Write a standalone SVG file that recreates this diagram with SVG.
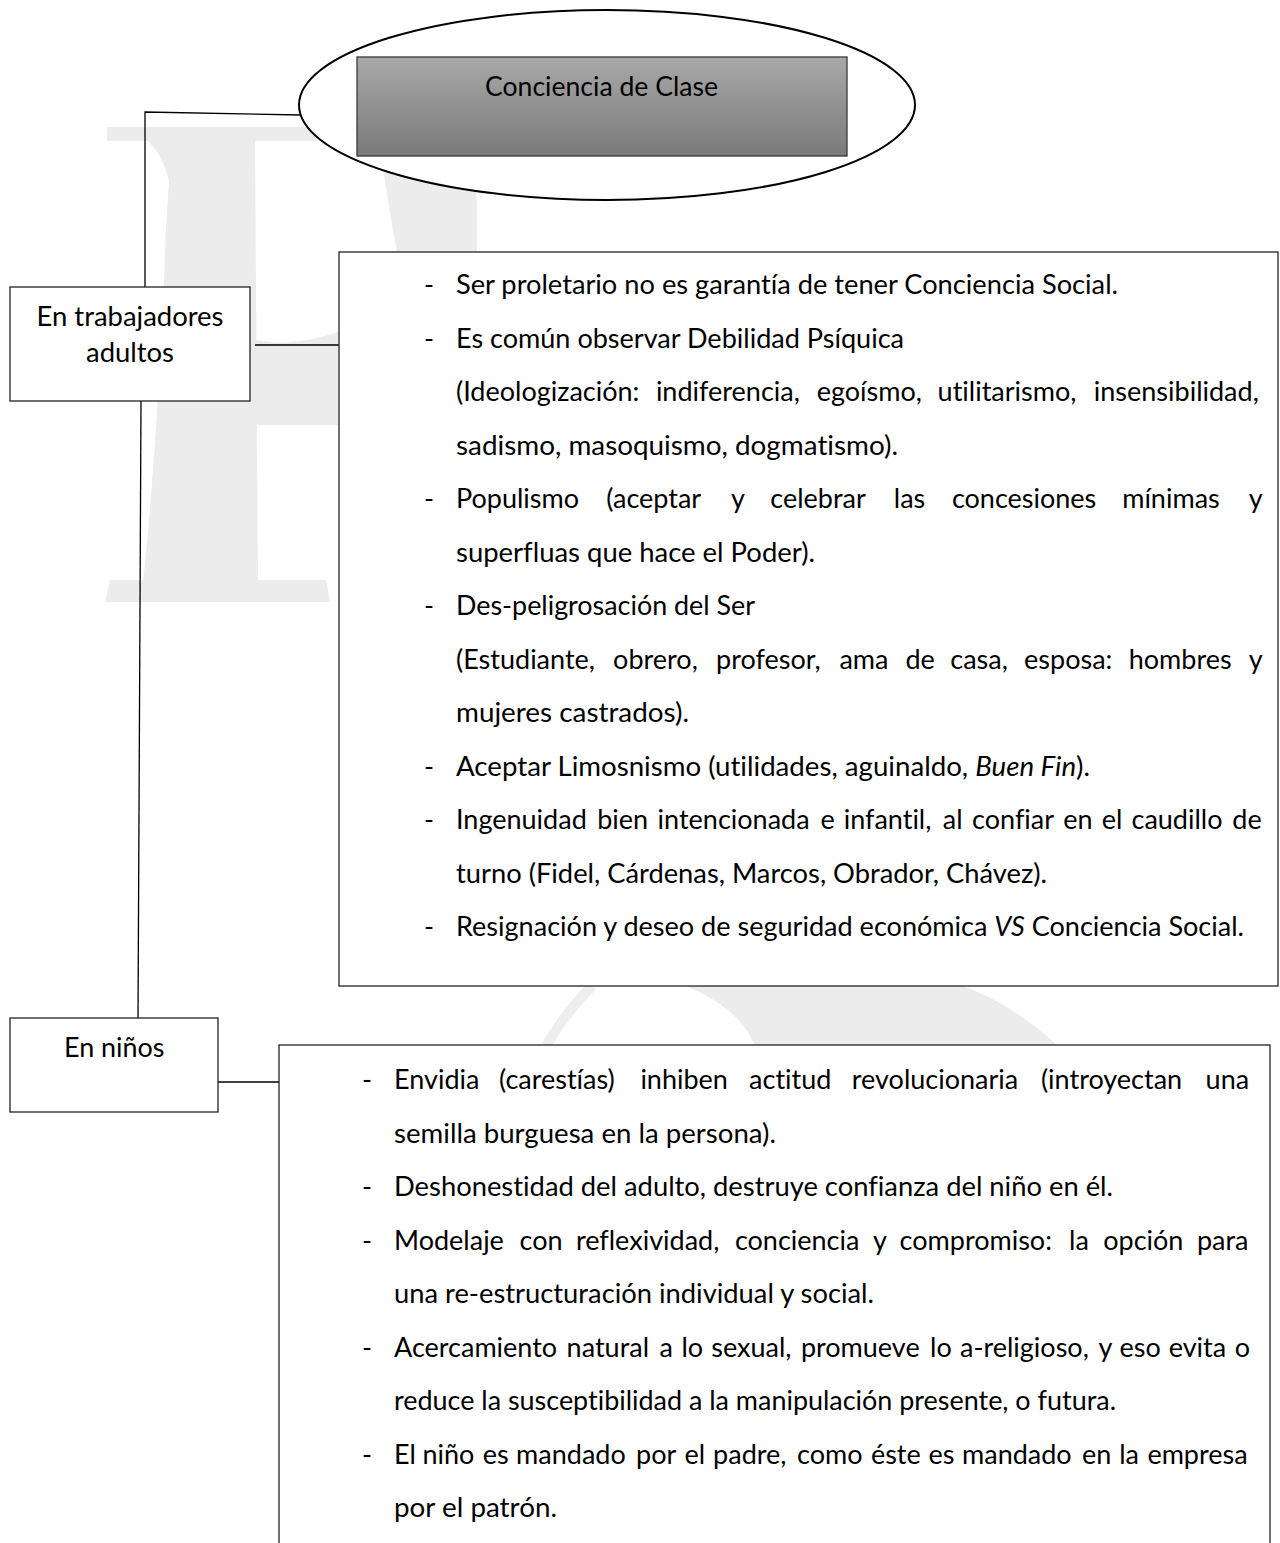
<svg xmlns="http://www.w3.org/2000/svg" width="1280" height="1543" viewBox="0 0 1280 1543">
<defs>
<linearGradient id="grayGrad" x1="0" y1="0" x2="0" y2="1">
<stop offset="0" stop-color="#a8a8a8"/>
<stop offset="1" stop-color="#7a7a7a"/>
</linearGradient>
<style>
.t { font-family: Lato, 'Open Sans', 'Liberation Sans', sans-serif; font-size: 27px; fill: #000; font-variant-ligatures: none; font-feature-settings: "liga" 0, "clig" 0; }
.it { font-style: italic; }
.box { fill: #fff; stroke: #222; stroke-width: 1.3; }
.wm { fill: #ececec; stroke: none; }
.conn { stroke: #000; stroke-width: 1.3; fill: none; }
</style>
</defs>
<rect x="0" y="0" width="1280" height="1543" fill="#fff"/>

<g id="watermark">
<path class="wm" d="M 107 127 L 430 127 L 430 141 L 107 141 Z"/>
<path class="wm" d="M 147 140 L 173 140 L 173 205 C 170 172 160 152 147 140 Z"/>
<path class="wm" d="M 173 140 L 255 140 L 258 582 L 143 582 C 152 500 160 380 164 280 C 166 220 169 175 173 140 Z"/>
<path class="wm" d="M 380 140 L 430 127 C 460 140 477 170 477 205 L 477 252 L 397 252 C 392 222 385 190 380 140 Z"/>
<path class="wm" d="M 255 340 C 285 346 315 340 345 330 L 345 425 L 255 425 Z"/>
<path class="wm" d="M 105 602 L 330 602 L 326 580 L 110 580 Z"/>
<path class="wm" d="M 686 986 C 720 1000 745 1020 755 1046 L 1058 1046 C 1030 1020 1000 1000 963 986 Z"/>
<path d="M 592 986 Q 566 1012 546 1046" fill="none" stroke="#eeeeee" stroke-width="10"/>
</g>

<g id="connectors">
<polyline class="conn" points="145,287 145,112 301,115"/>
<line class="conn" x1="255" y1="345" x2="339" y2="345"/>
<line class="conn" x1="141" y1="401" x2="138" y2="1018"/>
<line class="conn" x1="217" y1="1082" x2="279" y2="1082"/>
</g>

<g id="node-root">
<ellipse cx="607" cy="105" rx="308" ry="95" fill="#fff" stroke="#000" stroke-width="2"/>
<rect x="357" y="57" width="490" height="99" fill="url(#grayGrad)" stroke="#3a3a3a" stroke-width="1.3"/>
<text class="t" x="485" y="95.5" textLength="233" lengthAdjust="spacingAndGlyphs">Conciencia de Clase</text>
</g>

<g id="node-adultos">
<rect class="box" x="10" y="287" width="240" height="114"/>
<text class="t" x="36.5" y="326" textLength="187" lengthAdjust="spacingAndGlyphs">En trabajadores</text>
<text class="t" x="86" y="361.5" textLength="88" lengthAdjust="spacingAndGlyphs">adultos</text>
</g>

<g id="node-adultos-list">
<rect class="box" x="339" y="252" width="939" height="734"/>
<text class="t" x="424" y="294">-</text>
<text class="t" x="456" y="294" textLength="662" lengthAdjust="spacingAndGlyphs">Ser proletario no es garantía de tener Conciencia Social.</text>
<text class="t" x="424" y="347.5">-</text>
<text class="t" x="456" y="347.5" textLength="448" lengthAdjust="spacingAndGlyphs">Es común observar Debilidad Psíquica</text>
<text class="t" y="401"><tspan x="456">(Ideologización:</tspan><tspan x="655.9">indiferencia,</tspan><tspan x="816.7">egoísmo,</tspan><tspan x="937.6">utilitarismo,</tspan><tspan x="1093.8">insensibilidad,</tspan></text>
<text class="t" x="456" y="454.5" textLength="442" lengthAdjust="spacingAndGlyphs">sadismo, masoquismo, dogmatismo).</text>
<text class="t" x="424" y="508">-</text>
<text class="t" y="508"><tspan x="456">Populismo</tspan><tspan x="606.3">(aceptar</tspan><tspan x="731">y</tspan><tspan x="770.3">celebrar</tspan><tspan x="893.8">las</tspan><tspan x="951.9">concesiones</tspan><tspan x="1122.2">mínimas</tspan><tspan x="1248.7">y</tspan></text>
<text class="t" x="456" y="561.5" textLength="359" lengthAdjust="spacingAndGlyphs">superfluas que hace el Poder).</text>
<text class="t" x="424" y="615">-</text>
<text class="t" x="456" y="615" textLength="299" lengthAdjust="spacingAndGlyphs">Des-peligrosación del Ser</text>
<text class="t" y="668.5"><tspan x="456">(Estudiante,</tspan><tspan x="613.1">obrero,</tspan><tspan x="716.1">profesor,</tspan><tspan x="839.4">ama</tspan><tspan x="905.5">de</tspan><tspan x="950.3">casa,</tspan><tspan x="1024.1">esposa:</tspan><tspan x="1128.7">hombres</tspan><tspan x="1248.8">y</tspan></text>
<text class="t" x="456" y="722" textLength="233" lengthAdjust="spacingAndGlyphs">mujeres castrados).</text>
<text class="t" x="424" y="775.5">-</text>
<text class="t" x="456" y="775.5" textLength="634" lengthAdjust="spacingAndGlyphs">Aceptar Limosnismo (utilidades, aguinaldo, <tspan class="it">Buen Fin</tspan>).</text>
<text class="t" x="424" y="829">-</text>
<text class="t" y="829"><tspan x="456">Ingenuidad</tspan><tspan x="597.2">bien</tspan><tspan x="657.6">intencionada</tspan><tspan x="820.5">e</tspan><tspan x="843.7">infantil,</tspan><tspan x="942.8">al</tspan><tspan x="972.1">confiar</tspan><tspan x="1063.3">en</tspan><tspan x="1101.7">el</tspan><tspan x="1131.5">caudillo</tspan><tspan x="1232.3">de</tspan></text>
<text class="t" x="456" y="882.5" textLength="591" lengthAdjust="spacingAndGlyphs">turno (Fidel, Cárdenas, Marcos, Obrador, Chávez).</text>
<text class="t" x="424" y="936">-</text>
<text class="t" x="456" y="936" textLength="788" lengthAdjust="spacingAndGlyphs">Resignación y deseo de seguridad económica <tspan class="it">VS</tspan> Conciencia Social.</text>
</g>

<g id="node-ninos">
<rect class="box" x="10" y="1018" width="208" height="94"/>
<text class="t" x="64" y="1057" textLength="100.5" lengthAdjust="spacingAndGlyphs">En niños</text>
</g>

<g id="node-ninos-list">
<rect class="box" x="279" y="1045" width="991" height="520"/>
<text class="t" x="362" y="1089">-</text>
<text class="t" y="1089"><tspan x="394">Envidia</tspan><tspan x="499">(carestías)</tspan><tspan x="640.4">inhiben</tspan><tspan x="749.1">actitud</tspan><tspan x="851.8">revolucionaria</tspan><tspan x="1040.9">(introyectan</tspan><tspan x="1205.6">una</tspan></text>
<text class="t" x="394" y="1142.5" textLength="382" lengthAdjust="spacingAndGlyphs">semilla burguesa en la persona).</text>
<text class="t" x="362" y="1196">-</text>
<text class="t" x="394" y="1196" textLength="719" lengthAdjust="spacingAndGlyphs">Deshonestidad del adulto, destruye confianza del niño en él.</text>
<text class="t" x="362" y="1249.5">-</text>
<text class="t" y="1249.5"><tspan x="394">Modelaje</tspan><tspan x="519.5">con</tspan><tspan x="575.9">reflexividad,</tspan><tspan x="734.9">conciencia</tspan><tspan x="872.9">y</tspan><tspan x="899.6">compromiso:</tspan><tspan x="1069.1">la</tspan><tspan x="1103.2">opción</tspan><tspan x="1196.9">para</tspan></text>
<text class="t" x="394" y="1303" textLength="480" lengthAdjust="spacingAndGlyphs">una re-estructuración individual y social.</text>
<text class="t" x="362" y="1356.5">-</text>
<text class="t" y="1356.5"><tspan x="394">Acercamiento</tspan><tspan x="566.6">natural</tspan><tspan x="659.6">a</tspan><tspan x="681.4">lo</tspan><tspan x="711.3">sexual,</tspan><tspan x="800.9">promueve</tspan><tspan x="930.1">lo</tspan><tspan x="960">a-religioso,</tspan><tspan x="1098.4">y</tspan><tspan x="1119.6">eso</tspan><tspan x="1168.7">evita</tspan><tspan x="1234.7">o</tspan></text>
<text class="t" x="394" y="1410" textLength="722" lengthAdjust="spacingAndGlyphs">reduce la susceptibilidad a la manipulación presente, o futura.</text>
<text class="t" x="362" y="1463.5">-</text>
<text class="t" y="1463.5"><tspan x="394">El</tspan><tspan x="422.5">niño</tspan><tspan x="482.7">es</tspan><tspan x="516.1">mandado</tspan><tspan x="636">por</tspan><tspan x="684.4">el</tspan><tspan x="713.1">padre,</tspan><tspan x="797.1">como</tspan><tspan x="870.9">éste</tspan><tspan x="928.6">es</tspan><tspan x="962">mandado</tspan><tspan x="1081.9">en</tspan><tspan x="1119.2">la</tspan><tspan x="1147.4">empresa</tspan></text>
<text class="t" x="394" y="1517" textLength="163" lengthAdjust="spacingAndGlyphs">por el patrón.</text>
</g>
</svg>
